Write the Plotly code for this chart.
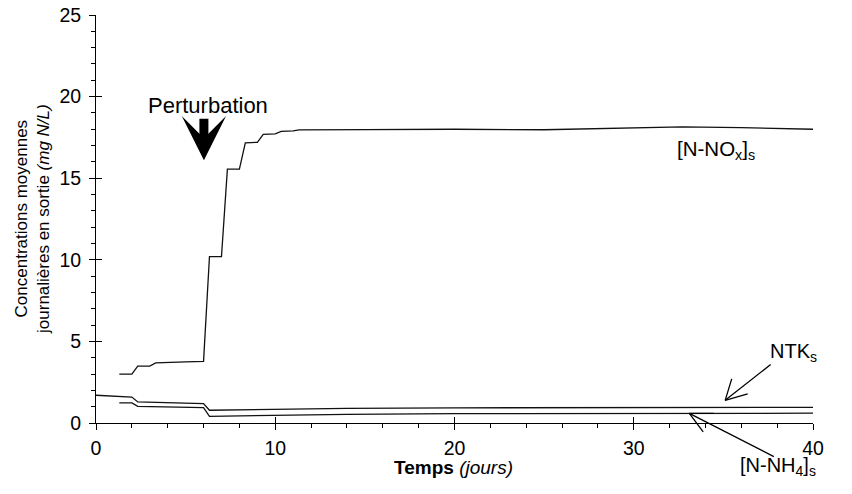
import plotly.graph_objects as go

# ---- data ----
nox_days = [1.3, 2.0, 2.33, 3.0, 3.33, 4.0, 5.0, 6.0, 6.33, 7.0, 7.33, 8.0, 8.33, 9.0,
            9.33, 10.0, 10.33, 11.0, 11.33, 15.0, 20.0, 25.0, 28.0, 32.7, 36.0, 40.0]
nox_vals = [3.0, 3.0, 3.49, 3.49, 3.68, 3.72, 3.75, 3.78, 10.2, 10.2, 15.55, 15.55, 17.17, 17.2,
            17.69, 17.72, 17.87, 17.9, 17.96, 17.98, 18.0, 17.97, 18.04, 18.15, 18.1, 18.0]

ntk_days = [0.0, 2.0, 2.33, 3.0, 6.0, 6.33, 10.0, 14.0, 20.0, 30.0, 40.0]
ntk_vals = [1.7, 1.59, 1.29, 1.27, 1.19, 0.78, 0.84, 0.9, 0.93, 0.96, 0.96]

nh4_days = [1.3, 2.0, 2.33, 3.0, 6.0, 6.33, 10.0, 14.0, 20.0, 30.0, 40.0]
nh4_vals = [1.23, 1.23, 1.02, 1.0, 0.94, 0.41, 0.47, 0.53, 0.57, 0.6, 0.6]

x_major_ticks = [0, 10, 20, 30, 40]
y_major_ticks = [0, 5, 10, 15, 20, 25]

FONT = "Liberation Sans, Arial, sans-serif"
LINE = dict(color="#111111", width=1.3)

fig = go.Figure()
fig.add_trace(go.Scatter(x=nox_days, y=nox_vals, mode="lines", line=LINE, showlegend=False))
fig.add_trace(go.Scatter(x=ntk_days, y=ntk_vals, mode="lines", line=LINE, showlegend=False))
fig.add_trace(go.Scatter(x=nh4_days, y=nh4_vals, mode="lines", line=LINE, showlegend=False))
# empty trace to materialise overlay axes (inside half of crossing ticks)
fig.add_trace(go.Scatter(x=[], y=[], xaxis="x2", yaxis="y2", showlegend=False, hoverinfo="skip"))

axis_common = dict(showgrid=False, zeroline=False, color="black", automargin=False)

fig.update_layout(
    width=852, height=494,
    margin=dict(l=88, r=47, t=7, b=79),
    paper_bgcolor="white", plot_bgcolor="white",
    font=dict(family=FONT, color="black"),
    xaxis=dict(range=[0, 40], tickvals=x_major_ticks, ticks="outside", ticklen=6,
               tickwidth=1, tickcolor="black", showline=True, linecolor="black", linewidth=1,
               tickfont=dict(size=19.5, family=FONT), ticklabelstandoff=2,
               ticklabeloverflow="allow",
               minor=dict(dtick=2, tick0=0, ticks="outside", ticklen=4, tickcolor="black", tickwidth=1),
               **axis_common),
    yaxis=dict(range=[0, 25], tickvals=y_major_ticks, ticks="outside", ticklen=6,
               tickwidth=1, tickcolor="black", showline=True, linecolor="black", linewidth=1,
               tickfont=dict(size=19.5, family=FONT), ticklabelstandoff=4,
               ticklabeloverflow="allow",
               minor=dict(dtick=1, tick0=0, ticks="outside", ticklen=4, tickcolor="black", tickwidth=1),
               **axis_common),
    xaxis2=dict(range=[0, 40], overlaying="x", anchor="y", side="bottom", tickvals=x_major_ticks,
                ticks="inside", ticklen=6, tickwidth=1, tickcolor="black", showticklabels=False,
                showline=False, **axis_common),
    yaxis2=dict(range=[0, 25], overlaying="y", anchor="x", side="left", tickvals=y_major_ticks,
                ticks="inside", ticklen=6, tickwidth=1, tickcolor="black", showticklabels=False,
                showline=False, **axis_common),
)

def seg(x, y, ax, ay):
    # thin arrow-shaft / arrow-wing line ending at data point (x, y)
    return dict(text="", xref="x", yref="y", x=x, y=y, ax=ax, ay=ay, showarrow=True,
                arrowhead=0, arrowwidth=1.3, arrowcolor="black")

annotations = [
    # axis titles
    dict(text="Concentrations moyennes<br>journalières en sortie <i>(mg N/L)</i>",
         xref="paper", yref="paper", x=-0.0893, y=0.5, xanchor="center", yanchor="middle",
         textangle=-90, showarrow=False, font=dict(size=17, family=FONT, color="black")),
    dict(text="<b>Temps</b> <i>(jours)</i>", xref="paper", yref="paper", x=0.498, y=-0.110,
         xanchor="center", yanchor="middle", showarrow=False,
         font=dict(size=19, family=FONT, color="black")),
    # perturbation
    dict(text="Perturbation", xref="x", yref="y", x=6.25, y=19.43, showarrow=False,
         font=dict(size=22, family=FONT, color="black")),
    dict(text="", xref="x", yref="y", x=6.02, y=16.1, ax=0, ay=-43, showarrow=True,
         arrowhead=3, arrowwidth=9, arrowsize=0.82, arrowcolor="black"),
    # series labels
    dict(text="[N-NO<sub>x</sub>]<sub>s</sub>", xref="x", yref="y", x=34.6, y=16.75,
         showarrow=False, font=dict(size=20.5, family=FONT, color="black")),
    dict(text="NTK<sub>s</sub>", xref="x", yref="y", x=38.9, y=4.33,
         showarrow=False, font=dict(size=20, family=FONT, color="black")),
    dict(text="[N-NH<sub>4</sub>]<sub>s</sub>", xref="paper", yref="paper", x=0.951, y=-0.1054,
         xanchor="center", yanchor="middle", showarrow=False,
         font=dict(size=20, family=FONT, color="black")),
    # NTK arrow: shaft + two wings
    seg(35.1, 1.39, 47, -37), seg(35.1, 1.39, 7, -23), seg(35.1, 1.39, 24, -7),
    # NH4 arrow: shaft + two wings
    seg(33.1, 0.59, 86, 44), seg(33.1, 0.59, 26, 0), seg(33.1, 0.59, 15, 20),
]
fig.update_layout(annotations=annotations)

fig.write_html("out.html")
